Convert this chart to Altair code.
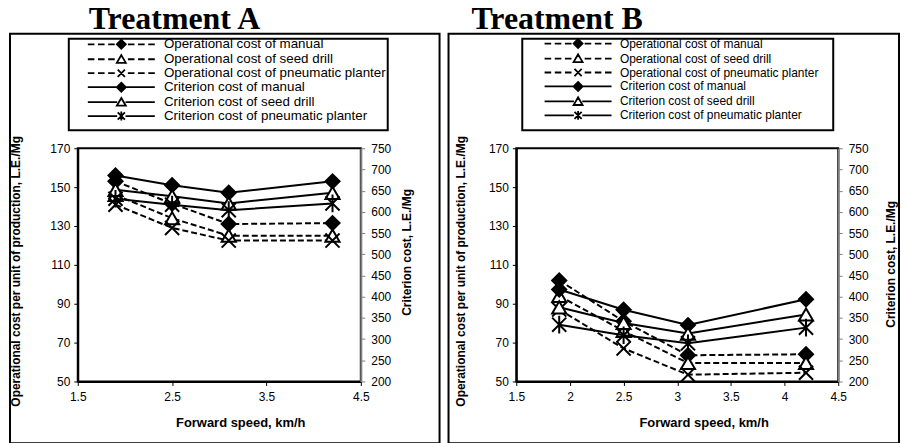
import altair as alt
import pandas as pd

# ---------------- data ----------------
speeds = [1.9, 2.5, 3.1, 4.2]
series_names = [
    "Operational cost of manual",
    "Operational cost of seed drill",
    "Operational cost of pneumatic planter",
    "Criterion cost of manual",
    "Criterion cost of seed drill",
    "Criterion cost of pneumatic planter",
]
op_names = series_names[:3]
crit_names = series_names[3:]

# Treatment A
op_manual_A = [153, 141.5, 131, 131.5]
op_seed_A = [146, 134, 125, 125]
op_pneu_A = [141, 129, 122.5, 122.5]
crit_manual_A = [686, 663, 645, 672]
crit_seed_A = [652, 637, 620, 645]
crit_pneu_A = [631, 617, 604, 620]

# Treatment B
op_manual_B = [102, 81, 63.5, 64]
op_seed_B = [94, 76, 59.5, 59.5]
op_pneu_B = [87, 67, 53.5, 54.5]
crit_manual_B = [417, 369, 333, 394]
crit_seed_B = [375, 338, 313, 358]
crit_pneu_B = [334, 309, 290, 327]

x_ticks_A = [1.5, 2.5, 3.5, 4.5]
x_ticks_B = [1.5, 2, 2.5, 3, 3.5, 4, 4.5]
y_left_ticks = [50, 70, 90, 110, 130, 150, 170]
y_right_ticks = [200, 250, 300, 350, 400, 450, 500, 550, 600, 650, 700, 750]


def long_df(names, vals_list):
    rows = []
    for name, vals in zip(names, vals_list):
        for s, v in zip(speeds, vals):
            rows.append({"speed": s, "series": name, "value": v})
    return pd.DataFrame(rows)


# ---------------- styles ----------------
SANS = "Liberation Sans"

X_SHAPE = "M-1,-1L1,1M-1,1L1,-1"
AST_SHAPE = "M-1,-1L1,1M-1,1L1,-1M0,-1.25L0,1.25"
op_shapes = ["diamond", "triangle-up", X_SHAPE]
crit_shapes = ["diamond", "triangle-up", AST_SHAPE]
marker_fills = ["black", "white", "black"]

# legend symbols (unit = 5 px with symbolSize 100)
dash = ("M-6.72,0L-5.4,0M-4.68,0L-3.36,0M-2.64,0L-1.32,0"
        "M1.32,0L2.64,0M3.36,0L4.68,0M5.4,0L6.72,0")
solid = "M-6.72,0L-0.84,0M0.84,0L6.72,0"
dia_l = "M0,-0.9L0.9,0L0,0.9L-0.9,0Z"
tri_l = "M0,-0.84L0.9,0.72L-0.9,0.72Z"
x_l = "M-0.72,-0.72L0.72,0.72M-0.72,0.72L0.72,-0.72"
ast_l = x_l + "M0,-0.9L0,0.9"
legend_paths = [dash + dia_l, dash + tri_l, dash + x_l,
                solid + dia_l, solid + tri_l, solid + ast_l]
legend_fills = ["black", "white", "black", "black", "white", "black"]
legend_strokes = ["black"] * 6

LABEL_EXPR = "'' + datum.value"


def panel(title, title_x, vals_op, vals_crit, width, x_ticks,
          frame_x, frame_x2, lbox_x, lbox_x2, legend_x, legend_font,
          lt_x, lt_y, rt_x, rt_y, xt_x):
    op_df = long_df(op_names, vals_op)
    crit_df = long_df(crit_names, vals_crit)

    x_enc = alt.X(
        "speed:Q",
        scale=alt.Scale(domain=[1.5, 4.5], nice=False, zero=False),
        axis=alt.Axis(
            values=x_ticks, labelExpr=LABEL_EXPR, title="Forward speed, km/h", grid=False,
            tickSize=4, tickColor="black", domainColor="black", domainWidth=2,
            labelFont=SANS, labelFontSize=12, labelColor="black", labelPadding=6,
            labelFlush=False, labelOverlap=False,
            titleFont=SANS, titleFontSize=13, titleFontWeight="bold",
            titleColor="black", titleX=xt_x, titleY=41, titleAlign="center",
            titleBaseline="middle", titleAngle=0,
        ),
    )

    y_left = alt.Y(
        "value:Q",
        scale=alt.Scale(domain=[50, 170], nice=False, zero=False),
        axis=alt.Axis(
            values=y_left_ticks, labelExpr=LABEL_EXPR, orient="left", grid=False,
            title="Operational cost per unit of production, L.E./Mg",
            tickSize=4, tickColor="black", domainColor="black", domainWidth=2,
            labelFont=SANS, labelFontSize=12, labelColor="black", labelPadding=4,
            labelOverlap=False, labelFlush=False,
            titleFont=SANS, titleFontSize=12, titleFontWeight="bold",
            titleColor="black", titleX=lt_x, titleY=lt_y, titleAngle=270,
            titleAlign="center", titleBaseline="middle",
        ),
    )
    y_right = alt.Y(
        "value:Q",
        scale=alt.Scale(domain=[200, 750], nice=False, zero=False),
        axis=alt.Axis(
            values=y_right_ticks, labelExpr=LABEL_EXPR, orient="right", grid=False,
            title="Criterion cost, L.E./Mg",
            tickSize=4, tickColor="#808080", domainColor="#808080", domainWidth=2,
            labelFont=SANS, labelFontSize=12, labelColor="black", labelPadding=6,
            labelOverlap=False, labelFlush=False,
            titleFont=SANS, titleFontSize=12, titleFontWeight="bold",
            titleColor="black", titleX=rt_x, titleY=rt_y, titleAngle=270,
            titleAlign="center", titleBaseline="middle",
        ),
    )

    op_line = alt.Chart(op_df).mark_line(
        color="black", strokeWidth=2, strokeDash=[6, 3]
    ).encode(x=x_enc, y=y_left, detail="series:N")
    op_pts = alt.Chart(op_df).mark_point(
        opacity=1, stroke="black", strokeWidth=2, size=200
    ).encode(
        x=x_enc, y=y_left,
        shape=alt.Shape("series:N", scale=alt.Scale(domain=op_names, range=op_shapes), legend=None),
        fill=alt.Fill("series:N", scale=alt.Scale(domain=op_names, range=marker_fills), legend=None),
    )
    crit_line = alt.Chart(crit_df).mark_line(
        color="black", strokeWidth=2
    ).encode(x=x_enc, y=y_right, detail="series:N")
    crit_pts = alt.Chart(crit_df).mark_point(
        opacity=1, stroke="black", strokeWidth=2, size=200
    ).encode(
        x=x_enc, y=y_right,
        shape=alt.Shape("series:N", scale=alt.Scale(domain=crit_names, range=crit_shapes), legend=None),
        fill=alt.Fill("series:N", scale=alt.Scale(domain=crit_names, range=marker_fills), legend=None),
    )

    op_layer = alt.layer(op_line, op_pts)
    crit_layer = alt.layer(crit_line, crit_pts)

    leg = dict(
        orient="none", legendX=legend_x, legendY=-111, title=None, direction="vertical",
        labelFont=SANS, labelFontSize=legend_font, labelColor="black", labelLimit=0,
        symbolSize=100, symbolStrokeColor="black", symbolStrokeWidth=1.8,
        symbolOpacity=1, labelOffset=36, rowPadding=-6, padding=0,
    )
    legend_df = pd.DataFrame({"series": series_names, "speed": [0.0] * 6})
    legend_layer = alt.Chart(legend_df).mark_point(
        opacity=1, strokeWidth=1.8
    ).encode(
        shape=alt.Shape("series:N", scale=alt.Scale(domain=series_names, range=legend_paths),
                        legend=alt.Legend(**leg)),
        fill=alt.Fill("series:N", scale=alt.Scale(domain=series_names, range=legend_fills),
                      legend=alt.Legend(**leg)),
        stroke=alt.Stroke("series:N", scale=alt.Scale(domain=series_names, range=legend_strokes),
                          legend=alt.Legend(**leg)),
    ).transform_filter("datum.speed > 100")

    one = pd.DataFrame({"k": [0]})
    frame = alt.Chart(one).mark_rect(filled=False, stroke="black", strokeWidth=2).encode(
        x=alt.value(frame_x), x2=alt.value(frame_x2), y=alt.value(-115), y2=alt.value(296)
    )
    lbox = alt.Chart(one).mark_rect(fill="white", stroke="black", strokeWidth=2).encode(
        x=alt.value(lbox_x), x2=alt.value(lbox_x2), y=alt.value(-110), y2=alt.value(-18)
    )
    title_txt = alt.Chart(one).mark_text(
        text=title, align="left", baseline="top", font="Liberation Serif",
        fontSize=32, fontWeight="bold", color="black",
    ).encode(x=alt.value(title_x), y=alt.value(-145))

    return alt.layer(frame, lbox, title_txt, op_layer, crit_layer, legend_layer).resolve_scale(
        y="independent", shape="independent", fill="independent", stroke="independent"
    ).properties(width=width, height=234)


pA = panel("Treatment A", 11,
           [op_manual_A, op_seed_A, op_pneu_A], [crit_manual_A, crit_seed_A, crit_pneu_A],
           284, x_ticks_A, -68, 363, -9, 311, 37, 13.4,
           -62, 123, 46, 104, 163)
pB = panel("Treatment B", -45,
           [op_manual_B, op_seed_B, op_pneu_B], [crit_manual_B, crit_seed_B, crit_pneu_B],
           323, x_ticks_B, -68, 384, 6, 318, 56, 12,
           -56, 123, 52, 116, 188)

chart = alt.hconcat(pA, pB, spacing=5).properties(
    padding={"left": 0, "top": -7, "right": 0, "bottom": 0},
    background="white",
).configure_view(stroke="black", strokeWidth=2)

chart.save("out.html", embed_options={"renderer": "svg", "actions": False})
